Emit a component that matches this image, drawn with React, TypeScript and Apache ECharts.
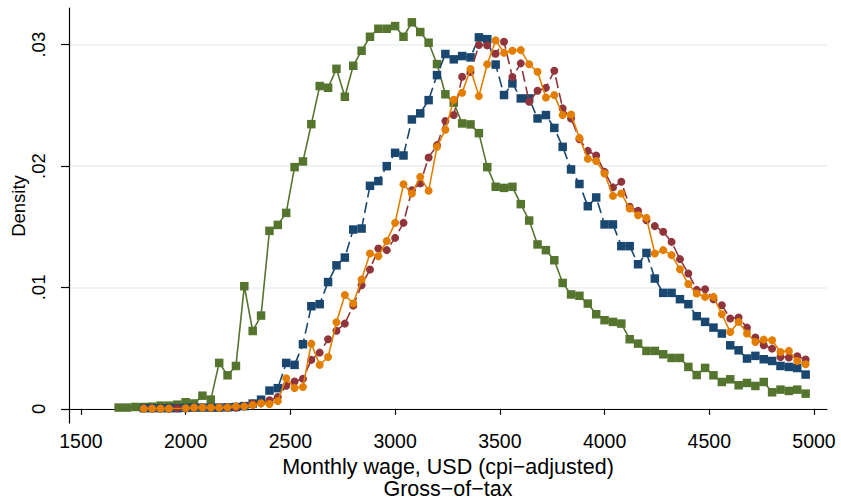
import React, { useEffect, useRef } from 'react';
import * as echarts from 'echarts';

// Wage bins (USD, cpi-adjusted), one value per bin
const wageBins = [
  1680, 1720, 1760, 1800, 1840, 1880, 1920, 1960, 2000, 2040,
  2080, 2120, 2160, 2200, 2240, 2280, 2320, 2360, 2400, 2440,
  2480, 2520, 2560, 2600, 2640, 2680, 2720, 2760, 2800, 2840,
  2880, 2920, 2960, 3000, 3040, 3080, 3120, 3160, 3200, 3240,
  3280, 3320, 3360, 3400, 3440, 3480, 3520, 3560, 3600, 3640,
  3680, 3720, 3760, 3800, 3840, 3880, 3920, 3960, 4000, 4040,
  4080, 4120, 4160, 4200, 4240, 4280, 4320, 4360, 4400, 4440,
  4480, 4520, 4560, 4600, 4640, 4680, 4720, 4760, 4800, 4840,
  4880, 4920, 4960,
];

const densityGreen = [
  0.0001, 0.0001, 0.00015, 0.00015, 0.00018, 0.00026, 0.00026, 0.00034, 0.00054, 0.00044,
  0.00108, 0.00076, 0.00378, 0.00276, 0.00353, 0.0101, 0.00641, 0.00768, 0.01466, 0.01515,
  0.01614, 0.01991, 0.02038, 0.02345, 0.02659, 0.02645, 0.02801, 0.02571, 0.02826, 0.0295,
  0.03065, 0.03131, 0.03131, 0.03153, 0.03065, 0.03184, 0.03104, 0.03016, 0.0284, 0.02591,
  0.02522, 0.02351, 0.02343, 0.02271, 0.01991, 0.01829, 0.0182, 0.01829, 0.01686, 0.01551,
  0.01354, 0.01307, 0.01224, 0.01037, 0.00942, 0.00931, 0.00867, 0.00779, 0.0073, 0.00716,
  0.00702, 0.00573, 0.00537, 0.00477, 0.00477, 0.00449, 0.00419, 0.00419, 0.00345, 0.00278,
  0.00337, 0.00276, 0.00221, 0.00243, 0.00194, 0.00213, 0.00188, 0.00221, 0.00136, 0.00158,
  0.00147, 0.00158, 0.00125,
];

const densityBlue = [
  null, null, null, 0.00005, 0.00005, 0.00005, 0.00005, 0.00005, 0.00008, 0.0001,
  0.0001, 0.0001, 0.0001, 0.00012, 0.00015, 0.00022, 0.00043, 0.00075, 0.0015, 0.0017,
  0.00378, 0.00362, 0.00532, 0.00845, 0.00862, 0.01044, 0.01182, 0.01246, 0.01477, 0.01485,
  0.01837, 0.01876, 0.01999, 0.02109, 0.02087, 0.02384, 0.02434, 0.02543, 0.02749, 0.02923,
  0.02879, 0.02906, 0.02895, 0.0306, 0.03045, 0.02836, 0.02585, 0.02681, 0.02557, 0.02557,
  0.02392, 0.0242, 0.02314, 0.02158, 0.01972, 0.01852, 0.01669, 0.01741, 0.01519, 0.01519,
  0.0134, 0.0134, 0.01191, 0.01284, 0.01073, 0.00955, 0.00955, 0.00903, 0.00862, 0.00763,
  0.00716, 0.00669, 0.0062, 0.00523, 0.00482, 0.00414, 0.00436, 0.00408, 0.00394, 0.00353,
  0.00345, 0.00336, 0.00282,
];

const densityMaroon = [
  null, null, null, 0.00003, 0.00003, 0.00003, 0.00003, 0.00005, 0.00005, 0.00008,
  0.0001, 0.0001, 0.0001, 0.0001, 0.0001, 0.0002, 0.00043, 0.00045, 0.0007, 0.00097,
  0.0019, 0.00225, 0.00248, 0.00403, 0.00463, 0.00573, 0.00643, 0.00702, 0.0085, 0.01018,
  0.01147, 0.01321, 0.01307, 0.01408, 0.01532, 0.01801, 0.01857, 0.02071, 0.02172, 0.02371,
  0.0242, 0.02735, 0.02775, 0.02997, 0.02994, 0.02925, 0.03024, 0.02733, 0.02846, 0.02529,
  0.0262, 0.02644, 0.02785, 0.02475, 0.02392, 0.02221, 0.02125, 0.02087, 0.01952, 0.01824,
  0.0187, 0.01664, 0.01631, 0.01554, 0.01505, 0.01458, 0.01375, 0.01233, 0.01115, 0.0098,
  0.00985, 0.00903, 0.00853, 0.00744, 0.00752, 0.00669, 0.00587, 0.00523, 0.00496, 0.00427,
  0.00422, 0.00433, 0.00406,
];

const densityOrange = [
  null, null, null, 0.00003, 0.00003, 0.00003, 0.00003, null, 0.00005, 0.0001,
  0.0001, 0.0001, 0.0001, 0.00012, 0.0002, 0.0002, 0.0003, 0.00045, 0.0004, 0.00064,
  0.00252, 0.00172, 0.0018, 0.00537, 0.00362, 0.00427, 0.00713, 0.00938, 0.00867, 0.01065,
  0.0128, 0.01257, 0.01383, 0.01532, 0.0185, 0.01774, 0.01911, 0.01796, 0.02158, 0.02299,
  0.02546, 0.02604, 0.02799, 0.02576, 0.02838, 0.03035, 0.02933, 0.0295, 0.02955, 0.02838,
  0.02777, 0.02565, 0.02584, 0.0242, 0.02425, 0.02232, 0.0206, 0.02042, 0.01939, 0.01754,
  0.01774, 0.0165, 0.01595, 0.01573, 0.0128, 0.01307, 0.01266, 0.0115, 0.01028, 0.0095,
  0.00922, 0.00922, 0.00779, 0.00633, 0.00716, 0.0062, 0.00551, 0.0057, 0.00565, 0.00468,
  0.00477, 0.00394, 0.00367,
];

const xTickValues = [1500, 2000, 2500, 3000, 3500, 4000, 4500, 5000];
const yTickValues = [0, 0.01, 0.02, 0.03];
const yTickLabels = ['0', '.01', '.02', '.03'];

const xTitleLine1 = 'Monthly wage, USD (cpi\u2212adjusted)';
const xTitleLine2 = 'Gross\u2212of\u2212tax';
const yTitle = 'Density';

const FONT = "'Liberation Sans', Arial, sans-serif";

function toPoints(vals: (number | null)[]) {
  const out: [number, number][] = [];
  vals.forEach((v, i) => {
    if (v !== null) out.push([wageBins[i], v]);
  });
  return out;
}

export default function App() {
  const ref = useRef<HTMLDivElement>(null);

  useEffect(() => {
    if (!ref.current) return;
    const chart = echarts.init(ref.current, undefined, { renderer: 'svg' });

    const lineSeries = (
      name: string,
      vals: (number | null)[],
      color: string,
      symbol: string,
      symbolSize: number,
      dashed: boolean,
      z: number
    ) => ({
      name,
      type: 'line',
      data: toPoints(vals),
      symbol,
      symbolSize,
      showSymbol: true,
      z,
      itemStyle: { color, borderWidth: 0 },
      lineStyle: { color, width: 1.6, type: dashed ? [11, 5] : 'solid' },
      emphasis: { disabled: true },
    });

    chart.setOption({
      animation: false,
      backgroundColor: '#ffffff',
      textStyle: { fontFamily: FONT },
      grid: { left: 69, right: 14, top: 8, bottom: 77, containLabel: false },
      xAxis: {
        type: 'value',
        min: 1443,
        max: 5062,
        axisLine: { show: true, lineStyle: { color: '#000', width: 1.2 } },
        axisTick: { show: true, length: 6, customValues: xTickValues, lineStyle: { color: '#000', width: 1.2 } },
        axisLabel: {
          customValues: xTickValues,
          color: '#000',
          fontSize: 19.5,
          fontFamily: FONT,
          margin: 8,
          formatter: (v: number) => String(Math.round(v)),
        },
        splitLine: { show: false },
      },
      yAxis: {
        type: 'value',
        min: -0.00117,
        max: 0.03302,
        axisLine: { show: true, lineStyle: { color: '#000', width: 1.2 } },
        axisTick: { show: true, length: 8, customValues: yTickValues, lineStyle: { color: '#000', width: 1.2 } },
        axisLabel: {
          customValues: yTickValues,
          rotate: 90,
          color: '#000',
          fontSize: 18.5,
          fontFamily: FONT,
          margin: 21,
          formatter: (v: number) => {
            const idx = yTickValues.findIndex((t) => Math.abs(t - v) < 1e-9);
            return idx >= 0 ? yTickLabels[idx] : '';
          },
        },
        splitLine: { show: false },
      },
      graphic: [
        {
          type: 'text',
          x: 448,
          y: 467,
          style: {
            text: xTitleLine1,
            fontSize: 21.5,
            fontFamily: FONT,
            fill: '#000',
            textAlign: 'center',
            textVerticalAlign: 'middle',
          },
        },
        {
          type: 'text',
          x: 448,
          y: 489,
          style: {
            text: xTitleLine2,
            fontSize: 21.5,
            fontFamily: FONT,
            fill: '#000',
            textAlign: 'center',
            textVerticalAlign: 'middle',
          },
        },
        {
          type: 'text',
          x: 18,
          y: 206,
          rotation: Math.PI / 2,
          style: {
            text: yTitle,
            fontSize: 18.5,
            fontFamily: FONT,
            fill: '#000',
            textAlign: 'center',
            textVerticalAlign: 'middle',
          },
        },
      ],
      series: [
        {
          name: 'grid',
          type: 'line',
          data: [],
          z: 1,
          silent: true,
          markLine: {
            silent: true,
            z: 0,
            symbol: 'none',
            label: { show: false },
            lineStyle: { color: '#e8eff2', width: 1.6, type: 'solid' },
            data: yTickValues.map((v) => ({ yAxis: v })),
            emphasis: { disabled: true },
          },
        },
        lineSeries('green', densityGreen, '#55752f', 'rect', 8.5, false, 10),
        lineSeries('blue', densityBlue, '#1a476f', 'rect', 8.5, true, 11),
        lineSeries('maroon', densityMaroon, '#90353b', 'circle', 8, true, 12),
        lineSeries('orange', densityOrange, '#e37e00', 'circle', 8, false, 13),
      ],
    });

    return () => {
      chart.dispose();
    };
  }, []);

  return (
    <div
      ref={ref}
      style={{ position: 'fixed', left: 0, top: 0, width: 841, height: 500, background: '#fff' }}
    />
  );
}
